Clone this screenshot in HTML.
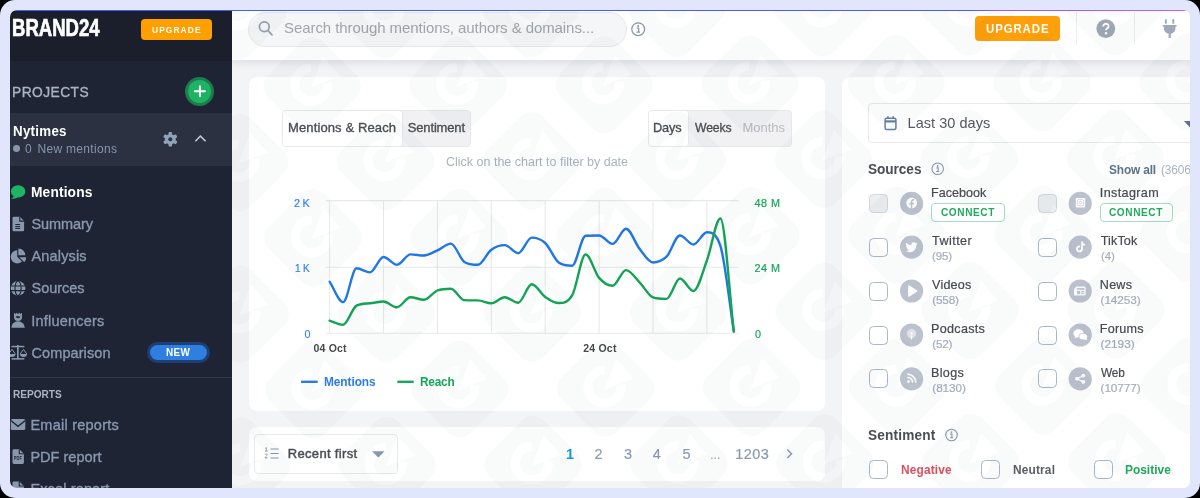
<!DOCTYPE html>
<html><head><meta charset="utf-8"><title>Brand24</title>
<style>
html,body{margin:0;padding:0}
body{width:1200px;height:498px;overflow:hidden;background:#000;position:relative;font-family:"Liberation Sans",sans-serif}
#frame{position:absolute;left:0;top:0;width:1200px;height:498px;background:#e1e6fd;border-radius:15px}
#app{will-change:transform;position:absolute;left:10px;top:10px;width:1180px;height:478px;border-radius:7px;overflow:hidden;background:#f3f4f6}
.abs{position:absolute}
.t{position:absolute;white-space:nowrap;display:block}
#sb{position:absolute;left:0;top:0;width:222px;height:478px;background:#1f2434;overflow:hidden}
#sbh{position:absolute;left:0;top:0;width:222px;height:50.5px;background:#1b1f2b}
#proj{position:absolute;left:0;top:103px;width:222px;height:53px;background:#2b3140}
#topbar{position:absolute;left:222px;top:0;width:958px;height:50px;background:#fff;box-shadow:0 2px 9px rgba(40,50,70,.13)}
#grad{position:absolute;left:0;top:0;width:1180px;height:1px;background:linear-gradient(90deg,#4560f6 0%,#4b5af3 81%,#9a58ee 84%,#c862ea 100%)}
.card{position:absolute;background:#fff;border-radius:8px}
.btn-or{position:absolute;background:#ff9f0a;border-radius:4px}
.seg{position:absolute;box-sizing:border-box;border:1px solid #e7e8eb;background:#f1f1f4;border-radius:4px}
.seg .on{position:absolute;left:0;top:0;bottom:0;background:#fff;border-radius:3px;box-shadow:1px 0 0 #e7e8eb}
.cb{position:absolute;box-sizing:border-box;width:19px;height:19px;border:1.5px solid #a9b7c8;border-radius:4.5px;background:#fff}
.cb.dis{background:#eceef1;border-color:#d3d7dc}
.conn{position:absolute;box-sizing:border-box;border:1px solid #a3dfc0;border-radius:4px;background:#fff}
.sel{position:absolute;box-sizing:border-box;border:1px solid #e8eaec;border-radius:4px;background:#fff}
svg{position:absolute;left:0;top:0;overflow:visible}
</style></head>
<body>
<div id="frame"></div>
<div id="app">
  <!-- main background cards -->
  <div id="topbar"></div>
  <div class="card" style="left:238.8px;top:67px;width:576.4px;height:334px"></div>
  <div class="card" style="left:238.8px;top:417px;width:576.4px;height:54px"></div>
  <div class="card" style="left:831.8px;top:67px;width:360px;height:430px"></div>

  <!-- search -->
  <div class="abs" style="left:238px;top:1.5px;width:379px;height:35.5px;box-sizing:border-box;border:1px solid #e6e8eb;border-radius:18px;background:#f5f6f7"></div>
  <!-- upgrade top -->
  <div class="btn-or" style="left:965.3px;top:6.3px;width:84.5px;height:24.4px"></div>
  <div class="abs" style="left:1066px;top:2px;width:1px;height:33px;background:#eceef0"></div>
  <div class="abs" style="left:1124px;top:2px;width:1px;height:33px;background:#eceef0"></div>

  <!-- chart segments -->
  <div class="seg" style="left:272px;top:100px;width:189px;height:36.5px"><div class="on" style="width:119px"></div></div>
  <div class="seg" style="left:638px;top:100px;width:144px;height:36.5px"><div class="on" style="width:39px"></div></div>

  <!-- recent first select -->
  <div class="sel" style="left:243.7px;top:424.2px;width:144px;height:40.3px"></div>
  <!-- date select -->
  <div class="sel" style="left:857.8px;top:92.8px;width:340px;height:40.4px"></div>
  <!-- connect buttons -->
  <div class="conn" style="left:921.3px;top:193px;width:73.4px;height:19.4px"></div>
  <div class="conn" style="left:1089.7px;top:193px;width:73.4px;height:19.4px"></div>
  <div class="cb dis" style="left:859px;top:183.9px"></div><div class="cb dis" style="left:1027.5px;top:183.9px"></div><div class="cb" style="left:859px;top:227.6px"></div><div class="cb" style="left:1027.5px;top:227.6px"></div><div class="cb" style="left:859px;top:271.5px"></div><div class="cb" style="left:1027.5px;top:271.5px"></div><div class="cb" style="left:859px;top:315.5px"></div><div class="cb" style="left:1027.5px;top:315.5px"></div><div class="cb" style="left:859px;top:359.4px"></div><div class="cb" style="left:1027.5px;top:359.4px"></div><div class="cb" style="left:859px;top:449.6px"></div><div class="cb" style="left:971.2px;top:449.6px"></div><div class="cb" style="left:1083.5px;top:449.6px"></div>

  <!-- main svg: chart + icons -->
  <svg width="1180" height="478" viewBox="0 0 1180 478">
    <g stroke="#e8e9ea" stroke-width="1.1" fill="none"><line x1="319.60" y1="190.6" x2="319.60" y2="323.2" /><line x1="373.50" y1="190.6" x2="373.50" y2="323.2" /><line x1="427.40" y1="190.6" x2="427.40" y2="323.2" /><line x1="481.30" y1="190.6" x2="481.30" y2="323.2" /><line x1="535.20" y1="190.6" x2="535.20" y2="323.2" /><line x1="589.10" y1="190.6" x2="589.10" y2="323.2" /><line x1="643.00" y1="190.6" x2="643.00" y2="323.2" /><line x1="696.90" y1="190.6" x2="696.90" y2="323.2" /><line x1="315.8" y1="190.60" x2="728.7" y2="190.60" /><line x1="315.8" y1="257.20" x2="728.7" y2="257.20" /><line x1="315.8" y1="323.20" x2="728.7" y2="323.20" /></g>
    
    <path d="M319.60,271.70C324.09,278.50 328.58,292.10 333.08,292.10C337.57,292.10 342.06,258.30 346.55,258.30C351.04,258.30 355.53,262.40 360.03,262.40C364.52,262.40 369.01,247.00 373.50,247.00C377.99,247.00 382.48,254.80 386.98,254.80C391.47,254.80 395.96,244.40 400.45,244.40C404.94,244.40 409.43,245.50 413.93,245.50C418.42,245.50 422.91,242.28 427.40,240.30C431.89,238.32 436.38,233.60 440.88,233.60C445.37,233.60 449.86,249.00 454.35,251.90C458.84,254.80 463.33,254.80 467.83,254.80C472.32,254.80 476.81,242.98 481.30,239.70C485.79,236.42 490.28,235.10 494.77,235.10C499.27,235.10 503.76,243.20 508.25,243.20C512.74,243.20 517.23,227.60 521.73,227.60C526.22,227.60 530.71,228.85 535.20,233.00C539.69,237.15 544.18,249.30 548.67,252.50C553.17,255.70 557.66,255.70 562.15,255.70C566.64,255.70 571.13,225.90 575.62,225.70C580.12,225.50 584.61,225.50 589.10,225.50C593.59,225.50 598.08,233.90 602.58,233.90C607.07,233.90 611.56,218.80 616.05,218.80C620.54,218.80 625.03,233.18 629.53,238.80C634.02,244.42 638.51,252.50 643.00,252.50C647.49,252.50 651.98,251.20 656.48,246.70C660.97,242.20 665.46,225.50 669.95,225.50C674.44,225.50 678.93,234.50 683.42,234.50C687.92,234.50 692.41,222.30 696.90,222.30C701.39,222.30 705.88,222.30 710.38,235.90C714.87,249.50 719.36,292.97 723.85,321.50" fill="none" stroke="#2277e6" stroke-width="2.4" stroke-linejoin="round" stroke-linecap="round"/>
    <path d="M319.60,310.70C324.09,312.07 328.58,314.80 333.08,314.80C337.57,314.80 342.06,297.86 346.55,295.60C351.04,293.34 355.53,293.73 360.03,293.30C364.52,292.87 369.01,291.50 373.50,291.50C377.99,291.50 382.48,297.30 386.98,297.30C391.47,297.30 395.96,287.20 400.45,287.20C404.94,287.20 409.43,289.80 413.93,289.80C418.42,289.80 422.91,282.30 427.40,280.50C431.89,278.70 436.38,278.70 440.88,278.70C445.37,278.70 449.86,289.81 454.35,290.10C458.84,290.39 463.33,290.32 467.83,290.40C472.32,290.48 476.81,293.30 481.30,293.30C485.79,293.30 490.28,287.20 494.77,287.20C499.27,287.20 503.76,292.70 508.25,292.70C512.74,292.70 517.23,274.20 521.73,274.20C526.22,274.20 530.71,283.77 535.20,286.90C539.69,290.03 544.18,293.00 548.67,293.00C553.17,293.00 557.66,293.00 562.15,285.40C566.64,277.80 571.13,244.40 575.62,244.40C580.12,244.40 584.61,262.67 589.10,267.90C593.59,273.13 598.08,275.80 602.58,275.80C607.07,275.80 611.56,260.10 616.05,260.10C620.54,260.10 625.03,267.75 629.53,272.30C634.02,276.85 638.51,285.90 643.00,287.40C647.49,288.90 651.98,288.90 656.48,288.90C660.97,288.90 665.46,268.50 669.95,268.50C674.44,268.50 678.93,281.00 683.42,281.00C687.92,281.00 692.41,262.58 696.90,250.50C701.39,238.42 705.88,208.50 710.38,208.50C714.87,208.50 719.36,283.83 723.85,321.50" fill="none" stroke="#14a456" stroke-width="2.4" stroke-linejoin="round" stroke-linecap="round"/>
    <!-- legend dashes -->
    <rect x="291" y="370.6" width="16.7" height="2.4" fill="#2f7de1"/>
    <rect x="387.3" y="370.6" width="16.4" height="2.4" fill="#17a85b"/>
    <!-- search icon -->
    <g fill="none" stroke="#93a0b1" stroke-width="1.7" stroke-linecap="round"><circle cx="254.3" cy="16.8" r="4.9"/><path d="M258 20.6L262 24.8"/></g>
    <!-- info icons -->
    <g id="info1" transform="translate(628.2,19.2)"><circle r="6.4" fill="none" stroke="#8a97ab" stroke-width="1.2"/><path d="M-1.4,-1h1.900v3.700M-1.6,3h3.4" stroke="#8a97ab" stroke-width="1.2" fill="none"/><circle cx="0" cy="-3.2" r="1" fill="#8a97ab"/></g>
    <g transform="translate(927.7,158.8) scale(.9)"><circle r="6.4" fill="none" stroke="#8a97ab" stroke-width="1.2"/><path d="M-1.4,-1h1.900v3.700M-1.6,3h3.4" stroke="#8a97ab" stroke-width="1.2" fill="none"/><circle cx="0" cy="-3.2" r="1" fill="#8a97ab"/></g>
    <g transform="translate(941.5,425) scale(.9)"><circle r="6.4" fill="none" stroke="#8a97ab" stroke-width="1.2"/><path d="M-1.4,-1h1.900v3.700M-1.6,3h3.4" stroke="#8a97ab" stroke-width="1.2" fill="none"/><circle cx="0" cy="-3.2" r="1" fill="#8a97ab"/></g>
    <!-- help -->
    <g transform="translate(1095.8,18.6)"><circle r="9.4" fill="#a0a8b6"/><path d="M-2.6,-2.200c0-3.4 5.4-3.4 5.4-.2c0 2-2.6 2-2.6 4" fill="none" stroke="#fff" stroke-width="1.9"/><circle cx=".2" cy="4.7" r="1.2" fill="#fff"/></g>
    <!-- plug -->
    <g transform="translate(1159.7,18.5)" fill="#a0a9b8"><rect x="-4.8" y="-9.5" width="1.9" height="4.8" rx=".9"/><rect x="2.6" y="-9.5" width="1.9" height="4.8" rx=".9"/><path d="M-7,-3.600h14v1.600h-1.200v1.600a5.8,5.8 0 0 1-4.7,5.600v4.200h-2.200v-4.200a5.8,5.8 0 0 1-4.7-5.600v-1.600h-1.200z"/></g>
    <!-- calendar -->
    <g transform="translate(874.3,106.2)" fill="none" stroke="#6782a3" stroke-width="1.5"><rect x=".8" y="2" width="10.8" height="11.2" rx="1.5"/><path d="M.8,5.200h10.8" stroke-width="2.2"/><path d="M3.6,0v2.500M8.8,0v2.5" stroke-width="1.6"/></g>
    <!-- select arrow -->
    <path d="M1174,111l6,6.500v-6.500z" fill="#5d7490"/>
    <!-- list icon -->
    <g transform="translate(255,437.5)" stroke="#8a97ab" stroke-width="1.2" fill="none"><path d="M5.5,1.500h8.200M5.5,6h8.200M5.5,10.500h8.2"/><path d="M0.3,0.600l1-.5v3.300M0,3.500h2.600M0,7.200c.2-1 2.3-1 2.3.2c0,.9-2.2 1.7-2.3 3h2.6" stroke-width=".9"/></g>
    <path d="M362,441.300h12.500l-6.25,6.300z" fill="#8a97ab"/>
    <!-- pagination chevron -->
    <path d="M777.3,439.500l4.2,4.3-4.2,4.3" fill="none" stroke="#8b9bb1" stroke-width="1.5"/>
    <g transform="translate(901.6,193.4)"><circle r="11.6" fill="#bcc1ce"/><circle cx="0.1" cy="-0.4" r="5.4" fill="#fff"/><path d="M0.7,5.1V1h1.5l0.25-1.7H0.7v-1.1c0-0.5 0.2-0.85 0.9-0.85h0.95v-1.5C3.1-4.2 2.5-4.3 1.8-4.3c-1.5,0-2.5,0.9-2.5,2.5v1.1h-1.5v1.7h1.5v4.1z" fill="#bcc1ce"/></g><g transform="translate(1070.2,193.4)"><circle r="11.6" fill="#bcc1ce"/><rect x="-4.4" y="-5.4" width="9.4" height="9.4" rx="0.8" fill="#fff"/><rect x="-2.9" y="-3.9" width="6.4" height="6.4" rx="1.8" fill="none" stroke="#bcc1ce" stroke-width="0.8" opacity=".75"/><circle cx="0.3" cy="-0.7" r="1.5" fill="none" stroke="#bcc1ce" stroke-width="0.8" opacity=".75"/></g><g transform="translate(901.6,237.1)"><circle r="11.6" fill="#bcc1ce"/><path d="M6,-3.6c-.5.2-.9.3-1.4.4.5-.3.9-.8 1.1-1.4-.5.3-1 .5-1.6.6a2.5,2.5 0 0 0-4.3 2.3c-2-.1-3.9-1.1-5.1-2.6-.7 1.2-.3 2.6.8 3.3-.4 0-.8-.1-1.1-.3 0 1.2.9 2.2 2 2.5-.4.1-.7.1-1.1 0 .3 1 1.3 1.7 2.3 1.7-1 .800-2.3 1.2-3.6 1.1 1.1.7 2.4 1.1 3.8 1.1 4.6 0 7.2-3.9 7-7.3.500-.400.9-.800 1.2-1.400z" fill="#fff"/></g><g transform="translate(1070.2,237.1)"><circle r="11.6" fill="#bcc1ce"/><path d="M1,-5.500h1.700c.1 1.3 1 2.3 2.3 2.400v1.800c-.9 0-1.7-.3-2.3-.7v3.800c0 2-1.6 3.4-3.5 3.400s-3.4-1.5-3.4-3.400c0-2.1 1.8-3.6 3.9-3.300v1.900c-1-.3-2 .4-2 1.4 0 .900.7 1.5 1.5 1.500s1.6-.600 1.6-1.600z" fill="#fff"/></g><g transform="translate(901.6,281.0)"><circle r="11.6" fill="#bcc1ce"/><path d="M-2.8,-5.200L5.2,0L-2.8,5.200z" fill="#fff" stroke="#fff" stroke-width="1.2" stroke-linejoin="round"/></g><g transform="translate(1070.2,281.0)"><circle r="11.6" fill="#bcc1ce"/><rect x="-4.8" y="-4.5" width="10.3" height="9" rx="1.3" fill="#fff" opacity=".9"/><rect x="-6.2" y="-2.5" width="2.5" height="7" rx="1" fill="#fff" opacity=".9"/><rect x="-3.3" y="-2.9" width="7.3" height="1.7" fill="#bcc1ce"/><rect x="-3.3" y="0" width="3.2" height="2.9" fill="#bcc1ce"/><rect x="1" y="0" width="3" height="1" fill="#bcc1ce"/><rect x="1" y="1.9" width="3" height="1" fill="#bcc1ce"/></g><g transform="translate(901.6,325.0)"><circle r="11.6" fill="#bcc1ce"/><circle r="4.8" cx="-0.1" cy="-1.4" fill="#fff" opacity=".42"/><circle r="3" cx="-0.1" cy="-1.4" fill="none" stroke="#fff" stroke-width="0.9" opacity=".45"/><circle r="1.3" cx="-0.1" cy="-1.5" fill="#fff"/><path d="M-0.95,0.6h1.7l-0.3,3.9h-1.1z" fill="#fff"/></g><g transform="translate(1070.2,325.0)"><circle r="11.6" fill="#bcc1ce"/><g transform="translate(0,-0.3) scale(1.08)"><ellipse cx="-1.5" cy="-1.3" rx="4.8" ry="3.8" fill="#fff"/><path d="M-5.5,3.200l1.3-3 2.2 1.800z" fill="#fff"/><ellipse cx="2.8" cy="1.7" rx="3.9" ry="3.1" fill="#fff" stroke="#bcc1ce" stroke-width=".8"/><path d="M6.4,5.200l-1-2.6-2 1.5z" fill="#fff"/></g></g><g transform="translate(901.6,368.9)"><circle r="11.6" fill="#bcc1ce"/><g transform="translate(0,-0.4) scale(0.86)"><circle cx="-3.6" cy="3.6" r="1.6" fill="#fff"/><path d="M-5,-1.300a6.300,6.300 0 0 1 6.300,6.300M-5,-5a10,10 0 0 1 10,10" fill="none" stroke="#fff" stroke-width="2" opacity=".92"/></g></g><g transform="translate(1070.2,368.9)"><circle r="11.6" fill="#bcc1ce"/><circle cx="3.1" cy="-3.3" r="1.9" fill="#fff"/><circle cx="-3.2" cy="-0.2" r="1.9" fill="#fff"/><circle cx="3.1" cy="3" r="1.9" fill="#fff"/><path d="M3.1,-3.3L-3.2,-0.2L3.1,3" fill="none" stroke="#fff" stroke-width="1.2"/></g>
  </svg>
  <span class="t" style="left:274.00px;top:9.00px;font-size:15px;line-height:18px;color:#a0a5ab;letter-spacing:-0.076px">Search through mentions, authors &amp; domains...</span>
<span class="t" style="left:975.50px;top:11.00px;font-size:13px;line-height:16px;color:#ffffff;transform:scaleX(0.88);transform-origin:0 0;letter-spacing:1.005px;font-weight:bold">UPGRADE</span>
<span class="t" style="left:278.00px;top:110.00px;font-size:13px;line-height:16px;color:#4b4e53;letter-spacing:0.121px;-webkit-text-stroke:0.33px #4b4e53">Mentions &amp; Reach</span>
<span class="t" style="left:397.80px;top:110.00px;font-size:13px;line-height:16px;color:#4b4e53;letter-spacing:-0.165px;-webkit-text-stroke:0.33px #4b4e53">Sentiment</span>
<span class="t" style="left:643.32px;top:110.00px;font-size:13px;line-height:16px;color:#4b4e53;transform:scaleX(0.9837);transform-origin:0 0;letter-spacing:-0.150px;-webkit-text-stroke:0.33px #4b4e53">Days</span>
<span class="t" style="left:684.50px;top:110.00px;font-size:13px;line-height:16px;color:#4b4e53;transform:scaleX(0.9392);transform-origin:0 0;letter-spacing:-0.150px;-webkit-text-stroke:0.33px #4b4e53">Weeks</span>
<span class="t" style="left:732.50px;top:110.00px;font-size:13px;line-height:16px;color:#b7bac0;letter-spacing:-0.026px">Months</span>
<span class="t" style="left:436.00px;top:145.00px;font-size:12.5px;line-height:15px;color:#a9b3bf">Click on the chart to filter by date</span>
<span class="t" style="left:284.00px;top:187.00px;font-size:10.8px;line-height:13px;color:#3b86e8;letter-spacing:-0.252px;-webkit-text-stroke:0.2px #3b86e8">2 K</span>
<span class="t" style="left:285.00px;top:252.00px;font-size:10.8px;line-height:13px;color:#3b86e8;transform:scaleX(0.9279);transform-origin:0 0;letter-spacing:-0.150px;-webkit-text-stroke:0.2px #3b86e8">1 K</span>
<span class="t" style="left:294.40px;top:318.00px;font-size:10.8px;line-height:13px;color:#3b86e8;-webkit-text-stroke:0.2px #3b86e8">0</span>
<span class="t" style="left:744.60px;top:187.00px;font-size:10.8px;line-height:13px;color:#17a85b;letter-spacing:0.464px;-webkit-text-stroke:0.2px #17a85b">48 M</span>
<span class="t" style="left:744.60px;top:252.00px;font-size:10.8px;line-height:13px;color:#17a85b;letter-spacing:0.464px;-webkit-text-stroke:0.2px #17a85b">24 M</span>
<span class="t" style="left:745.00px;top:318.00px;font-size:10.8px;line-height:13px;color:#17a85b;-webkit-text-stroke:0.2px #17a85b">0</span>
<span class="t" style="left:303.40px;top:332.00px;font-size:10.5px;line-height:13px;color:#4a4a4a;letter-spacing:0.219px;font-weight:bold">04 Oct</span>
<span class="t" style="left:573.20px;top:332.00px;font-size:10.5px;line-height:13px;color:#4a4a4a;letter-spacing:0.219px;font-weight:bold">24 Oct</span>
<span class="t" style="left:313.90px;top:365.00px;font-size:12.5px;line-height:15px;color:#2f7de1;transform:scaleX(0.95);transform-origin:0 0;letter-spacing:-0.069px;font-weight:bold">Mentions</span>
<span class="t" style="left:409.50px;top:365.00px;font-size:12.5px;line-height:15px;color:#17a85b;transform:scaleX(0.95);transform-origin:0 0;letter-spacing:-0.247px;font-weight:bold">Reach</span>
<span class="t" style="left:277.75px;top:436.00px;font-size:13px;line-height:16px;color:#4b4e53;letter-spacing:0.329px;-webkit-text-stroke:0.45px #4b4e53">Recent first</span>
<span class="t" style="left:556.10px;top:436.00px;font-size:14.5px;line-height:17px;color:#1a9be6;font-weight:bold">1</span>
<span class="t" style="left:584.50px;top:436.00px;font-size:14.5px;line-height:17px;color:#8b9bb1;-webkit-text-stroke:0.2px #8b9bb1">2</span>
<span class="t" style="left:613.90px;top:436.00px;font-size:14.5px;line-height:17px;color:#8b9bb1;-webkit-text-stroke:0.2px #8b9bb1">3</span>
<span class="t" style="left:642.85px;top:436.00px;font-size:14.5px;line-height:17px;color:#8b9bb1;-webkit-text-stroke:0.2px #8b9bb1">4</span>
<span class="t" style="left:672.50px;top:436.00px;font-size:14.5px;line-height:17px;color:#8b9bb1;-webkit-text-stroke:0.2px #8b9bb1">5</span>
<span class="t" style="left:700.20px;top:438.00px;font-size:12px;line-height:14px;color:#8b9bb1;letter-spacing:0.066px">...</span>
<span class="t" style="left:725.25px;top:436.00px;font-size:14.5px;line-height:17px;color:#8b9bb1;letter-spacing:0.436px;-webkit-text-stroke:0.2px #8b9bb1">1203</span>
<span class="t" style="left:897.60px;top:105.00px;font-size:14.5px;line-height:17px;color:#56595e;letter-spacing:0.039px">Last 30 days</span>
<span class="t" style="left:857.80px;top:151.00px;font-size:14.5px;line-height:17px;color:#4b4e53;transform:scaleX(0.94);transform-origin:0 0;letter-spacing:-0.058px;font-weight:bold">Sources</span>
<span class="t" style="left:1099.00px;top:153.00px;font-size:12.5px;line-height:15px;color:#5d7490;transform:scaleX(0.95);transform-origin:0 0;letter-spacing:-0.153px;font-weight:bold">Show all</span>
<span class="t" style="left:1151.00px;top:153.00px;font-size:12.5px;line-height:15px;color:#a9b3bf;transform:scaleX(0.9519);transform-origin:0 0;letter-spacing:-0.150px">(36066)</span>
<span class="t" style="left:921.00px;top:176.00px;font-size:12.6px;line-height:15px;color:#474a4f;-webkit-text-stroke:0.2px #474a4f">Facebook</span>
<span class="t" style="left:1089.80px;top:176.00px;font-size:12.6px;line-height:15px;color:#474a4f;letter-spacing:0.362px;-webkit-text-stroke:0.2px #474a4f">Instagram</span>
<span class="t" style="left:922.00px;top:224.00px;font-size:12.6px;line-height:15px;color:#474a4f;letter-spacing:0.435px;-webkit-text-stroke:0.2px #474a4f">Twitter</span>
<span class="t" style="left:1090.80px;top:224.00px;font-size:12.6px;line-height:15px;color:#474a4f;letter-spacing:0.096px;-webkit-text-stroke:0.2px #474a4f">TikTok</span>
<span class="t" style="left:922.30px;top:239.00px;font-size:11.8px;line-height:14px;color:#a5adbc;transform:scaleX(0.9757);transform-origin:0 0;letter-spacing:-0.150px;-webkit-text-stroke:0.2px #a5adbc">(95)</span>
<span class="t" style="left:1090.60px;top:239.00px;font-size:11.8px;line-height:14px;color:#a5adbc;transform:scaleX(0.9726);transform-origin:0 0;letter-spacing:-0.150px;-webkit-text-stroke:0.2px #a5adbc">(4)</span>
<span class="t" style="left:922.00px;top:268.00px;font-size:12.6px;line-height:15px;color:#474a4f;letter-spacing:0.204px;-webkit-text-stroke:0.2px #474a4f">Videos</span>
<span class="t" style="left:1089.80px;top:268.00px;font-size:12.6px;line-height:15px;color:#474a4f;letter-spacing:0.235px;-webkit-text-stroke:0.2px #474a4f">News</span>
<span class="t" style="left:922.30px;top:283.00px;font-size:11.8px;line-height:14px;color:#a5adbc;letter-spacing:-0.228px;-webkit-text-stroke:0.2px #a5adbc">(558)</span>
<span class="t" style="left:1090.60px;top:283.00px;font-size:11.8px;line-height:14px;color:#a5adbc;letter-spacing:-0.105px;-webkit-text-stroke:0.2px #a5adbc">(14253)</span>
<span class="t" style="left:921.00px;top:312.00px;font-size:12.6px;line-height:15px;color:#474a4f;letter-spacing:0.299px;-webkit-text-stroke:0.2px #474a4f">Podcasts</span>
<span class="t" style="left:1089.80px;top:312.00px;font-size:12.6px;line-height:15px;color:#474a4f;letter-spacing:0.223px;-webkit-text-stroke:0.2px #474a4f">Forums</span>
<span class="t" style="left:922.30px;top:327.00px;font-size:11.8px;line-height:14px;color:#a5adbc;letter-spacing:-0.283px;-webkit-text-stroke:0.2px #a5adbc">(52)</span>
<span class="t" style="left:1090.60px;top:327.00px;font-size:11.8px;line-height:14px;color:#a5adbc;letter-spacing:-0.014px;-webkit-text-stroke:0.2px #a5adbc">(2193)</span>
<span class="t" style="left:921.00px;top:356.00px;font-size:12.6px;line-height:15px;color:#474a4f;letter-spacing:0.324px;-webkit-text-stroke:0.2px #474a4f">Blogs</span>
<span class="t" style="left:1090.80px;top:356.00px;font-size:12.6px;line-height:15px;color:#474a4f;transform:scaleX(0.9423);transform-origin:0 0;letter-spacing:-0.150px;-webkit-text-stroke:0.2px #474a4f">Web</span>
<span class="t" style="left:922.30px;top:371.00px;font-size:11.8px;line-height:14px;color:#a5adbc;letter-spacing:-0.094px;-webkit-text-stroke:0.2px #a5adbc">(8130)</span>
<span class="t" style="left:1090.60px;top:371.00px;font-size:11.8px;line-height:14px;color:#a5adbc;letter-spacing:-0.105px;-webkit-text-stroke:0.2px #a5adbc">(10777)</span>
<span class="t" style="left:930.80px;top:196.00px;font-size:11.2px;line-height:13px;color:#1faa5d;transform:scaleX(0.9);transform-origin:0 0;letter-spacing:0.661px;font-weight:bold">CONNECT</span>
<span class="t" style="left:1099.10px;top:196.00px;font-size:11.2px;line-height:13px;color:#1faa5d;transform:scaleX(0.9);transform-origin:0 0;letter-spacing:0.661px;font-weight:bold">CONNECT</span>
<span class="t" style="left:858.00px;top:417.00px;font-size:14.5px;line-height:17px;color:#4b4e53;transform:scaleX(0.94);transform-origin:0 0;letter-spacing:0.193px;font-weight:bold">Sentiment</span>
<span class="t" style="left:890.50px;top:453.00px;font-size:12.5px;line-height:15px;color:#e0505f;transform:scaleX(0.95);transform-origin:0 0;letter-spacing:0.174px;font-weight:bold">Negative</span>
<span class="t" style="left:1002.70px;top:453.00px;font-size:12.5px;line-height:15px;color:#5a5d62;transform:scaleX(0.95);transform-origin:0 0;letter-spacing:0.182px;font-weight:bold">Neutral</span>
<span class="t" style="left:1115.00px;top:453.00px;font-size:12.5px;line-height:15px;color:#1faa5d;transform:scaleX(0.95);transform-origin:0 0;letter-spacing:0.032px;font-weight:bold">Positive</span>

  <svg width="1180" height="478" viewBox="0 0 1180 478" style="left:0;top:0">
    <defs>
      <clipPath id="mainclip"><rect x="222" y="0" width="958" height="478"/></clipPath>
      <mask id="wmm" maskUnits="userSpaceOnUse" x="-55" y="-55" width="110" height="110">
        <rect x="-55" y="-55" width="110" height="110" fill="#fff"/>
        <path d="M-1.1,-18a16.5,16.5 0 1 0 16.4,14.5" fill="none" stroke="#000" stroke-width="9"/>
        <path d="M-1.1,1.100L10.6,-29.800L27.6,-9.900z" fill="#000"/>
      </mask>
      <g id="wm">
        <g mask="url(#wmm)"><rect x="-39" y="-39" width="78" height="78" rx="16" transform="rotate(45)" fill="rgba(20,25,45,0.023)"/></g>
      </g>
    </defs>
    <g clip-path="url(#mainclip)"><use href="#wm" x="229.0" y="0.5"/><use href="#wm" x="374.9" y="-0.2"/><use href="#wm" x="520.9" y="-0.9"/><use href="#wm" x="666.8" y="-1.6"/><use href="#wm" x="812.8" y="-2.3"/><use href="#wm" x="958.7" y="-3.0"/><use href="#wm" x="1104.7" y="-3.7"/><use href="#wm" x="302.3" y="76.1"/><use href="#wm" x="448.2" y="75.4"/><use href="#wm" x="594.2" y="74.7"/><use href="#wm" x="740.1" y="74.0"/><use href="#wm" x="886.1" y="73.3"/><use href="#wm" x="1032.0" y="72.6"/><use href="#wm" x="1178.0" y="71.9"/><use href="#wm" x="229.7" y="152.3"/><use href="#wm" x="375.6" y="151.7"/><use href="#wm" x="521.6" y="150.9"/><use href="#wm" x="667.5" y="150.2"/><use href="#wm" x="813.5" y="149.6"/><use href="#wm" x="959.4" y="148.8"/><use href="#wm" x="1105.4" y="148.2"/><use href="#wm" x="303.0" y="227.9"/><use href="#wm" x="449.0" y="227.2"/><use href="#wm" x="594.9" y="226.5"/><use href="#wm" x="740.9" y="225.8"/><use href="#wm" x="886.8" y="225.1"/><use href="#wm" x="1032.8" y="224.4"/><use href="#wm" x="1178.7" y="223.7"/><use href="#wm" x="230.4" y="304.1"/><use href="#wm" x="376.4" y="303.5"/><use href="#wm" x="522.3" y="302.8"/><use href="#wm" x="668.3" y="302.1"/><use href="#wm" x="814.2" y="301.4"/><use href="#wm" x="960.2" y="300.6"/><use href="#wm" x="1106.1" y="300.0"/><use href="#wm" x="303.7" y="379.7"/><use href="#wm" x="449.7" y="379.0"/><use href="#wm" x="595.6" y="378.3"/><use href="#wm" x="741.6" y="377.6"/><use href="#wm" x="887.5" y="376.9"/><use href="#wm" x="1033.5" y="376.2"/><use href="#wm" x="1179.4" y="375.5"/><use href="#wm" x="231.1" y="455.9"/><use href="#wm" x="377.1" y="455.2"/><use href="#wm" x="523.0" y="454.6"/><use href="#wm" x="669.0" y="453.9"/><use href="#wm" x="814.9" y="453.1"/><use href="#wm" x="960.9" y="452.4"/><use href="#wm" x="1106.8" y="451.8"/><use href="#wm" x="1034.2" y="528.0"/><use href="#wm" x="1180.2" y="527.3"/></g>
  </svg>

  <!-- sidebar -->
  <div id="sb">
    <div id="sbh"></div>
    <div id="proj"></div>
    <div class="btn-or" style="left:131px;top:9px;width:71px;height:21px;background:#ffa000"></div>
    <div class="abs" style="left:175.4px;top:66.7px;width:29px;height:29px;border-radius:50%;background:#1d7c4b"></div>
    <div class="abs" style="left:178.4px;top:69.7px;width:23px;height:23px;border-radius:50%;background:#1eb264"></div>
    <div class="abs" style="left:137px;top:332px;width:63px;height:21px;border-radius:11px;background:#1d3f75"></div>
    <div class="abs" style="left:140px;top:335px;width:57px;height:15px;border-radius:8px;background:#2f7fe0"></div>
    <div class="abs" style="left:0;top:367.200px;width:222px;height:1px;background:#343a4b"></div>
    <div class="abs" style="left:2.7px;top:135.4px;width:6.9px;height:6.9px;border-radius:50%;background:#8596ad"></div>
    <svg width="222" height="478" viewBox="0 0 222 478">
      <!-- plus -->
      <path d="M184.9,81.2h10M189.9,76.2v10" stroke="#fff" stroke-width="2" stroke-linecap="round"/>
      <!-- gear -->
      <g transform="translate(160.3,129.3)" fill="#8fa3ba"><circle r="5.4"/><rect x="-1.7" y="-7.3" width="3.4" height="4" rx=".8" transform="rotate(0)"/><rect x="-1.7" y="-7.3" width="3.4" height="4" rx=".8" transform="rotate(60)"/><rect x="-1.7" y="-7.3" width="3.4" height="4" rx=".8" transform="rotate(120)"/><rect x="-1.7" y="-7.3" width="3.4" height="4" rx=".8" transform="rotate(180)"/><rect x="-1.7" y="-7.3" width="3.4" height="4" rx=".8" transform="rotate(240)"/><rect x="-1.7" y="-7.3" width="3.4" height="4" rx=".8" transform="rotate(300)"/><circle r="2" fill="#2b3140"/></g>
      <!-- chevron up -->
      <path d="M185.4,131.3l5,-5.2 5.2,5.2" fill="none" stroke="#c5cdd8" stroke-width="1.5"/>
      <!-- comment -->
      <g fill="#1eb464"><ellipse cx="8.1" cy="181.4" rx="7.2" ry="6.1"/><path d="M0.7,188.700c1.7-.4 2.8-1.6 3.2-3.400l3.8 2.200c-1.9 1-4.3 1.6-7 1.200z"/></g>
      <g fill="#8898ae">
      <!-- file -->
      <path d="M3.8,206.800h6.200l4.1,4.100v9.100a1.3,1.3 0 0 1-1.3,1.300h-9a1.3,1.3 0 0 1-1.3-1.300v-11.900a1.3,1.3 0 0 1 1.3-1.300z"/>
      <!-- pie -->
      <path d="M7.3,246.800V240.200A6.6,6.6 0 1 0 11.97,251.470Z"/>
      <path d="M8.4,245.300V238.400A6.9,6.9 0 0 1 15.3,245.300Z"/>
      <path d="M9.3,247.300H16.300A7.2,7.2 0 0 1 14.25,252.250Z"/>
      <!-- globe -->
      <circle cx="8.05" cy="278.3" r="7.3"/>
      <!-- user -->
      <path d="M4,302.800l1.5,1.3 1.25-1.3 1.25,1.3 1.25-1.3 1.25,1.3 1.5-1.300v4.200a4,4 0 0 1-8,0z"/>
      <path d="M1.3,317.800a6.75,6.5 0 0 1 13.5,0z"/>
      <!-- scale -->
      <rect x="7" y="335" width="1.7" height="14.2"/><rect x="1.5" y="335.8" width="12.8" height="1.5"/><rect x="1.5" y="348.1" width="12.8" height="1.5"/>
      <path d="M10,344h7a3.5,3 0 0 1-7,0zM-1.5,344h7a3.5,3 0 0 1-7,0z"/>
      <!-- envelope -->
      <rect x=".8" y="409" width="14.5" height="11.1" rx="1.6"/>
      <!-- pdf -->
      <path d="M3.8,439.200h5.600l4.5,4.500v8.900a1.3,1.3 0 0 1-1.3,1.300h-8.800a1.3,1.3 0 0 1-1.3-1.300v-12.100a1.3,1.3 0 0 1 1.3-1.300z"/>
      <path d="M3.8,471.400h5.600l4.5,4.500v10.200h-11.400v-13.400a1.3,1.3 0 0 1 1.3-1.300z"/>
      </g>
      <g fill="none" stroke="#1f2434" stroke-width="1.1">
        <path d="M9.8,206.800v4.300h4.3" /><path d="M5.3,214.500h4.800M5.3,216.600h4.800M5.3,218.400h4.8" stroke-width="1"/>
        <path d="M0.8,276h14.500M0.8,280.600h14.5" stroke-width="1.1"/><ellipse cx="8.05" cy="278.3" rx="3.1" ry="7.3" stroke-width="1.1"/>
        <path d="M5.8,306.300a2.2,1.9 0 0 0 4.4,0z" fill="#1f2434" stroke="none"/>
        <path d="M0.8,410.600l7.2,5.7 7.3-5.7" stroke-width="1.3"/>
        <path d="M9.3,439.200v4.600h4.6"/><path d="M9.3,471.400v4.600h4.6"/>
      </g>
      <g fill="none" stroke="#8898ae" stroke-width="1"><path d="M10.2,344l3.3-4.7 3.3,4.700M-1.3,344l3.3-4.7 3.3,4.7"/></g>
      <text x="3.8" y="449.6" font-family="Liberation Sans" font-weight="bold" font-size="4.8" fill="#1f2434" textLength="8.2" lengthAdjust="spacingAndGlyphs">PDF</text>
    </svg>
    <span class="t" style="left:2.01px;top:4.00px;font-size:23.6px;line-height:28px;color:#ffffff;transform:scaleX(0.7859);transform-origin:0 0;font-weight:bold;-webkit-text-stroke:0.7px #ffffff">BRAND24</span>
<span class="t" style="left:141.60px;top:14.00px;font-size:9.5px;line-height:11px;color:#ffffff;transform:scaleX(0.88);transform-origin:0 0;letter-spacing:1.267px;font-weight:bold">UPGRADE</span>
<span class="t" style="left:2.05px;top:74.00px;font-size:14.5px;line-height:17px;color:#a9b4c2;transform:scaleX(0.95);transform-origin:0 0;letter-spacing:0.468px;-webkit-text-stroke:0.35px #a9b4c2">PROJECTS</span>
<span class="t" style="left:3.40px;top:113.00px;font-size:14px;line-height:17px;color:#ffffff;transform:scaleX(0.95);transform-origin:0 0;letter-spacing:0.307px;font-weight:bold">Nytimes</span>
<span class="t" style="left:15.00px;top:132.00px;font-size:12px;line-height:14px;color:#8596ad">0</span>
<span class="t" style="left:27.50px;top:132.00px;font-size:12px;line-height:14px;color:#8596ad;letter-spacing:0.306px">New mentions</span>
<span class="t" style="left:21.10px;top:174.00px;font-size:14.5px;line-height:17px;color:#ffffff;transform:scaleX(0.95);transform-origin:0 0;letter-spacing:0.136px;font-weight:bold">Mentions</span>
<span class="t" style="left:21.50px;top:206.00px;font-size:14.5px;line-height:17px;color:#8898ae;letter-spacing:-0.081px;-webkit-text-stroke:0.35px #8898ae">Summary</span>
<span class="t" style="left:21.50px;top:238.00px;font-size:14.5px;line-height:17px;color:#8898ae;letter-spacing:0.151px;-webkit-text-stroke:0.35px #8898ae">Analysis</span>
<span class="t" style="left:21.50px;top:270.00px;font-size:14.5px;line-height:17px;color:#8898ae;letter-spacing:-0.024px;-webkit-text-stroke:0.35px #8898ae">Sources</span>
<span class="t" style="left:21.20px;top:303.00px;font-size:14.5px;line-height:17px;color:#8898ae;letter-spacing:0.212px;-webkit-text-stroke:0.35px #8898ae">Influencers</span>
<span class="t" style="left:21.50px;top:335.00px;font-size:14.5px;line-height:17px;color:#8898ae;letter-spacing:0.088px;-webkit-text-stroke:0.35px #8898ae">Comparison</span>
<span class="t" style="left:156.00px;top:336.00px;font-size:11px;line-height:13px;color:#ffffff;transform:scaleX(0.9);transform-origin:0 0;letter-spacing:0.415px;font-weight:bold">NEW</span>
<span class="t" style="left:3.00px;top:378.00px;font-size:11px;line-height:13px;color:#a9b4c2;transform:scaleX(0.92);transform-origin:0 0;letter-spacing:-0.038px;font-weight:bold">REPORTS</span>
<span class="t" style="left:20.40px;top:407.00px;font-size:14.5px;line-height:17px;color:#8898ae;letter-spacing:0.245px;-webkit-text-stroke:0.35px #8898ae">Email reports</span>
<span class="t" style="left:20.40px;top:439.00px;font-size:14.5px;line-height:17px;color:#8898ae;letter-spacing:0.025px;-webkit-text-stroke:0.35px #8898ae">PDF report</span>
<span class="t" style="left:20.40px;top:471.00px;font-size:14.5px;line-height:17px;color:#8898ae;letter-spacing:0.142px;-webkit-text-stroke:0.35px #8898ae">Excel report</span>
  </div>
  <div id="grad"></div>
</div>
</body></html>
